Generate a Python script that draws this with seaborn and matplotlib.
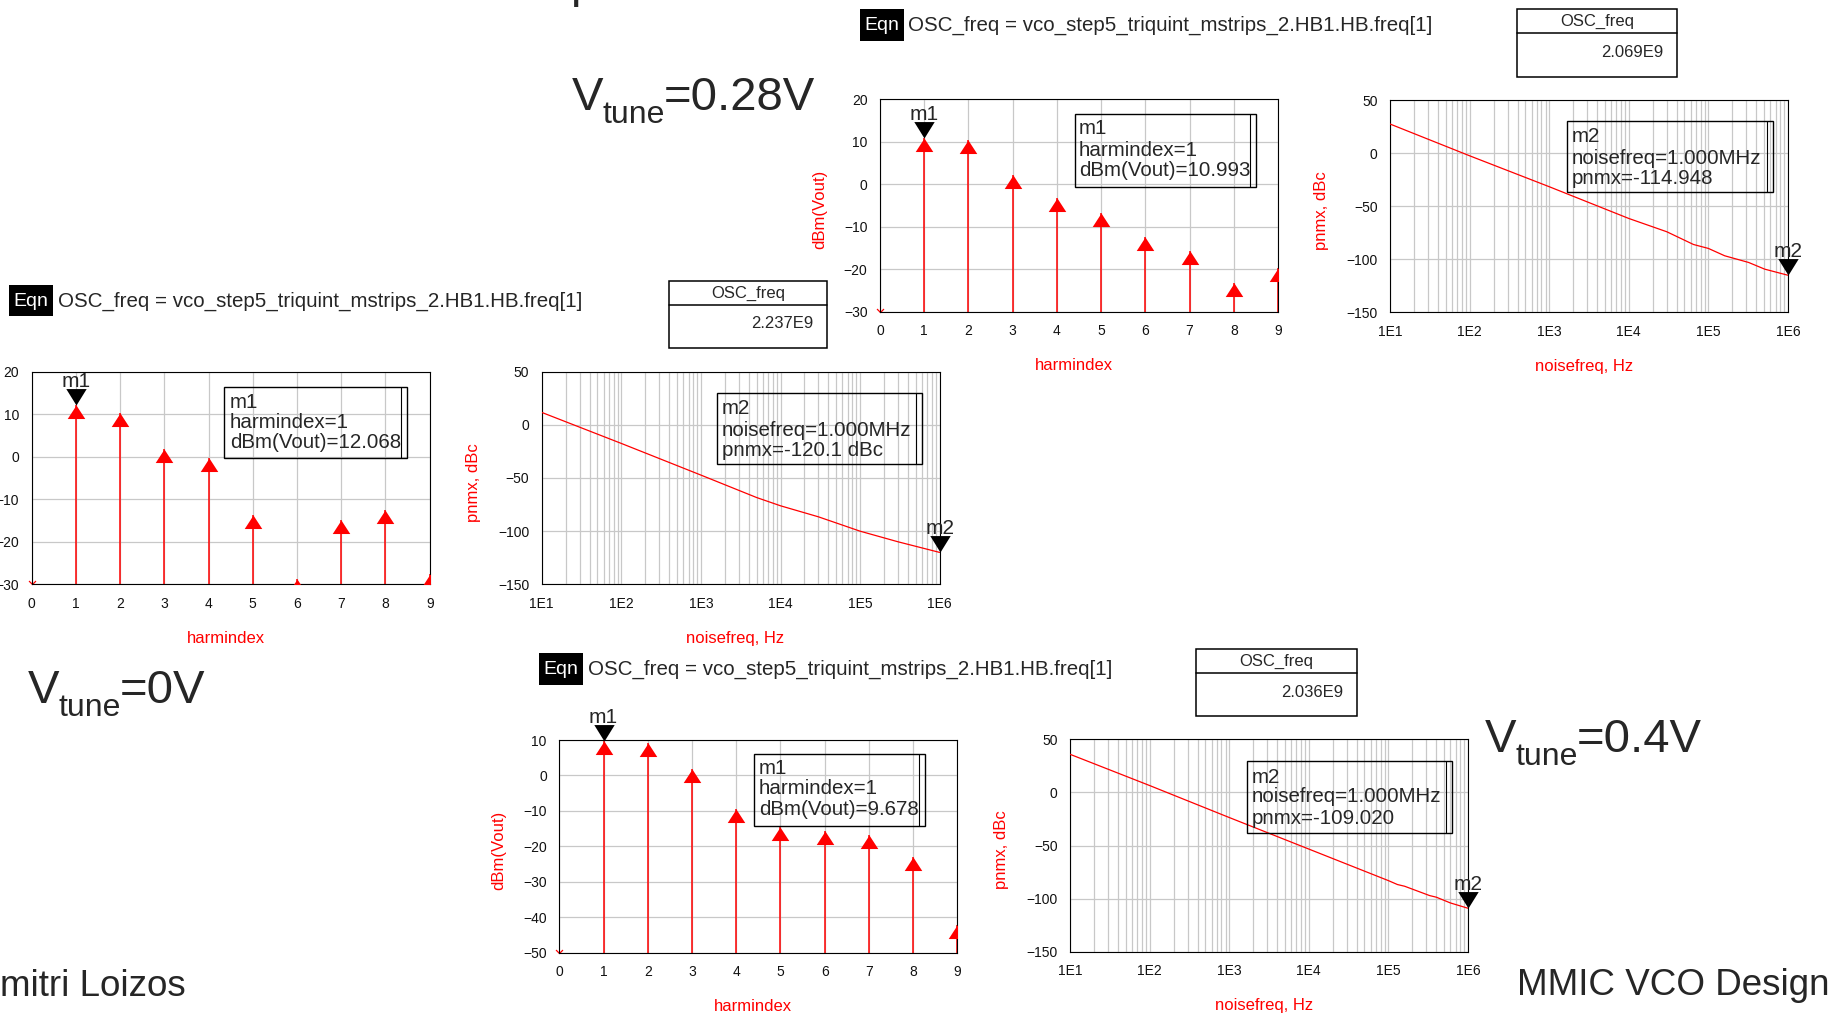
import numpy as np
import pandas as pd
import seaborn as sns
import matplotlib.pyplot as plt
from matplotlib.patches import Rectangle
from matplotlib.lines import Line2D
from matplotlib.path import Path
from matplotlib.markers import MarkerStyle
from matplotlib.ticker import MultipleLocator, LogLocator, NullFormatter, FuncFormatter

# harmonic spectra, dBm(Vout) for harmindex 1..9
harm_index = [1, 2, 3, 4, 5, 6, 7, 8, 9]
dbm_vout_0v = [12.068, 10.2, 1.9, -0.4, -13.7, -28.7, -14.9, -12.6, -27.5]
dbm_vout_028v = [10.993, 10.4, 2.2, -3.3, -6.8, -12.3, -15.6, -23.3, -19.8]
dbm_vout_04v = [9.678, 9.2, 1.9, -9.5, -14.7, -15.6, -16.8, -23.0, -42.3]

# phase noise pnmx (dBc) vs noisefreq (Hz)
noisefreq_0v = [1e1, 1e2, 1e3, 5e3, 1e4, 3e4, 1e5, 3e5, 1e6]
pnmx_0v = [11.7, -17.5, -47.3, -68.4, -76.2, -86.6, -100.1, -110.1, -120.1]
noisefreq_028v = [1e1, 1e2, 1e3, 1e4, 3e4, 6.5e4, 1e5, 1.6e5, 3.2e5, 5.1e5, 1e6]
pnmx_028v = [27.4, -2.5, -31.6, -61.5, -74.0, -86.0, -89.7, -96.6, -102.9, -109.2, -114.948]
noisefreq_04v = [1e1, 1e2, 1e3, 1e4, 1e5, 1.3e5, 1.6e5, 3.3e5, 4e5, 6e5, 1e6]
pnmx_04v = [35.9, 6.5, -23.6, -53.3, -83.0, -86.7, -88.3, -97.1, -98.6, -104.0, -109.02]

osc_freq = [2.237e9, 2.069e9, 2.036e9]
vtune = ["0V", "0.28V", "0.4V"]
eqn_text = "OSC_freq = vco_step5_triquint_mstrips_2.HB1.HB.freq[1]"

RED = "#ff0000"
GRID = "#c8c8c8"
FONT = "Liberation Sans"
W, H = 1837, 1013

sns.set_theme(style="white")
plt.rcParams["font.family"] = [FONT, "DejaVu Sans"]

# markers: apex of the triangle sits on the value, like ADS
tri_up = MarkerStyle(Path([(0, 0), (-0.65, -1), (0.65, -1), (0, 0)],
                          [Path.MOVETO, Path.LINETO, Path.LINETO, Path.CLOSEPOLY]))
tri_down = MarkerStyle(Path([(0, 0), (-0.62, 1), (0.62, 1), (0, 0)],
                            [Path.MOVETO, Path.LINETO, Path.LINETO, Path.CLOSEPOLY]))
chevron = MarkerStyle(Path([(-1, 1), (0, 0), (1, 1)]), fillstyle="none")

fig = plt.figure(figsize=(W / 100, H / 100), dpi=100)
fig.patch.set_facecolor("white")
renderer = fig.canvas.get_renderer()


def fx(x):
    return x / W


def fy(y):
    return 1 - y / H


def px_axes(left, top, w=398, h=212.5):
    return fig.add_axes([fx(left), fy(top + h), w / W, h / H])


def style_axes(ax):
    ax.set_facecolor("white")
    for s in ax.spines.values():
        s.set_visible(True)
        s.set_color("black")
        s.set_linewidth(0.8)
    ax.tick_params(which="major", direction="out", length=7, width=0.7,
                   color="black", labelsize=10, pad=2, labelcolor="#111111")
    ax.tick_params(which="minor", direction="out", length=3.5, width=0.7, color="black")
    ax.set_axisbelow(True)


def marker_label(ax, x, y, name):
    sns.scatterplot(x=[x], y=[y], marker=tri_down, s=560, color="black",
                    linewidth=0, ax=ax, zorder=5, clip_on=False, legend=False)
    ax.annotate(name, xy=(x, y), xytext=(0, 13), textcoords="offset points",
                ha="center", va="baseline", fontsize=15, annotation_clip=False, zorder=6)


def draw_harm(ax, vals, ylim):
    style_axes(ax)
    ax.vlines(harm_index, ylim[0], vals, colors=RED, lw=1.1, zorder=2)
    sns.scatterplot(x=harm_index, y=vals, marker=tri_up, s=380, color=RED,
                    linewidth=0, ax=ax, zorder=3, legend=False)
    # DC bin falls below the plotted range
    ax.plot([0], [ylim[0]], marker=chevron, ms=5, mec=RED, mew=0.9, ls="none", clip_on=False)
    ax.set_xlim(0, 9)
    ax.set_ylim(*ylim)
    ax.xaxis.set_major_locator(MultipleLocator(1))
    ax.xaxis.set_minor_locator(MultipleLocator(0.5))
    ax.yaxis.set_major_locator(MultipleLocator(10))
    ax.yaxis.set_minor_locator(MultipleLocator(5))
    ax.grid(True, which="major", color=GRID, lw=0.9)
    ax.set_xlabel("harmindex", color=RED, fontsize=12, va="center")
    ax.set_ylabel("dBm(Vout)", color=RED, fontsize=12, va="center")
    ax.xaxis.set_label_coords(0.487, -0.254)
    ax.yaxis.set_label_coords(-0.151, 0.48)
    marker_label(ax, harm_index[0], vals[0], "m1")


def draw_pn(ax, freq, pn):
    style_axes(ax)
    ax.set_xscale("log")
    sns.lineplot(x=freq, y=pn, color=RED, lw=0.9, ax=ax, zorder=3)
    ax.set_xlim(1e1, 1e6)
    ax.set_ylim(-150, 50)
    ax.xaxis.set_major_locator(LogLocator(10, numticks=10))
    ax.xaxis.set_minor_locator(LogLocator(10, subs=np.arange(2, 10), numticks=100))
    ax.xaxis.set_major_formatter(FuncFormatter(lambda v, _: f"1E{int(round(np.log10(v)))}"))
    ax.xaxis.set_minor_formatter(NullFormatter())
    ax.tick_params(axis="x", which="minor", length=0)
    ax.yaxis.set_major_locator(MultipleLocator(50))
    ax.yaxis.set_minor_locator(MultipleLocator(10))
    ax.grid(True, axis="x", which="both", color=GRID, lw=0.9)
    ax.grid(True, axis="y", which="major", color=GRID, lw=0.9)
    ax.set_xlabel("noisefreq, Hz", color=RED, fontsize=12, va="center")
    ax.set_ylabel("pnmx, dBc", color=RED, fontsize=12, va="center")
    ax.xaxis.set_label_coords(0.487, -0.254)
    ax.yaxis.set_label_coords(-0.172, 0.48)
    marker_label(ax, freq[-1], pn[-1], "m2")


def readout(x0, y0, x1, y1, lines, tx, ty):
    fig.add_artist(Rectangle((fx(x0), fy(y1)), fx(x1 - x0), (y1 - y0) / H,
                             transform=fig.transFigure, fill=False, ec="black", lw=1.0))
    fig.add_artist(Line2D([fx(x1 - 6), fx(x1 - 6)], [fy(y0), fy(y1)],
                          transform=fig.transFigure, color="black", lw=0.8))
    for s, y in zip(lines, ty):
        fig.text(fx(tx), fy(y), s, fontsize=14.8, va="center", ha="left")


def eqn_block(bx, by, ox0, oy0, ox1, oy1, f):
    fig.add_artist(Rectangle((fx(bx), fy(by + 31.5)), 43.5 / W, 31.5 / H,
                             transform=fig.transFigure, fc="black", ec="none"))
    fig.text(fx(bx + 21.7), fy(by + 16.5), "Eqn", color="white", fontsize=14,
             ha="center", va="center")
    fig.text(fx(bx + 48.5), fy(by + 16.5), eqn_text, fontsize=14.8, ha="left", va="center")
    fig.add_artist(Rectangle((fx(ox0), fy(oy1)), fx(ox1 - ox0), (oy1 - oy0) / H,
                             transform=fig.transFigure, fill=False, ec="black", lw=1.1))
    div = oy0 + 24
    fig.add_artist(Line2D([fx(ox0), fx(ox1)], [fy(div), fy(div)],
                          transform=fig.transFigure, color="black", lw=1.1))
    fig.text(fx((ox0 + ox1) / 2), fy((oy0 + div) / 2), "OSC_freq", fontsize=12,
             ha="center", va="center")
    fig.text(fx(ox1 - 14), fy(div + 19), f"{f / 1e9:.3f}E9", fontsize=12,
             ha="right", va="center")


def vtune_label(x, y, value):
    # V, subscript "tune" dropped ~13 px, then "=value"
    t = fig.text(fx(x), fy(y), "V", fontsize=34, va="baseline", ha="left")
    x_next = t.get_window_extent(renderer).x1 - 1
    t = fig.text(x_next / W, fy(y + 13), "tune", fontsize=23, va="baseline", ha="left")
    x_next = t.get_window_extent(renderer).x1 - 1
    fig.text(x_next / W, fy(y), "=" + value, fontsize=34, va="baseline", ha="left")


# Vtune = 0 V (left / middle)
ax_h0 = px_axes(31.7, 371.7)
draw_harm(ax_h0, dbm_vout_0v, (-30, 20))
ax_p0 = px_axes(541.7, 371.7)
draw_pn(ax_p0, noisefreq_0v, pnmx_0v)

# Vtune = 0.28 V (top)
ax_h1 = px_axes(880, 99.3)
draw_harm(ax_h1, dbm_vout_028v, (-30, 20))
ax_p1 = px_axes(1390, 100)
draw_pn(ax_p1, noisefreq_028v, pnmx_028v)

# Vtune = 0.4 V (bottom)
ax_h2 = px_axes(559.3, 740)
draw_harm(ax_h2, dbm_vout_04v, (-50, 10))
ax_p2 = px_axes(1070, 739.3)
draw_pn(ax_p2, noisefreq_04v, pnmx_04v)

# marker readouts
readout(224, 387, 407, 458, ["m1", "harmindex=1", f"dBm(Vout)={dbm_vout_0v[0]:.3f}"],
        230, [402, 422, 442])
readout(717, 393, 922, 464, ["m2", "noisefreq=1.000MHz", f"pnmx={pnmx_0v[-1]:.1f} dBc"],
        722, [409, 430, 450])
readout(1075, 114, 1256, 187, ["m1", "harmindex=1", f"dBm(Vout)={dbm_vout_028v[0]:.3f}"],
        1079, [129, 150, 170])
readout(1567, 121, 1773, 192, ["m2", "noisefreq=1.000MHz", f"pnmx={pnmx_028v[-1]:.3f}"],
        1572, [137, 158, 178])
readout(754, 754, 925, 826, ["m1", "harmindex=1", f"dBm(Vout)={dbm_vout_04v[0]:.3f}"],
        759, [768, 789, 809])
readout(1247, 761, 1452, 833, ["m2", "noisefreq=1.000MHz", f"pnmx={pnmx_04v[-1]:.3f}"],
        1252, [777, 797, 818])

# equation / OSC_freq tables
eqn_block(9.4, 285, 669, 281, 827, 348, osc_freq[0])
eqn_block(860, 9.3, 1517, 9.3, 1677, 76.7, osc_freq[1])
eqn_block(539, 653, 1196, 649, 1357, 716, osc_freq[2])

# slide text
for v, (x, y) in zip(vtune, [(28, 703), (572, 110), (1485, 752)]):
    vtune_label(x, y, v)
fig.text(fx(570), fy(-3), "p", fontsize=34, va="baseline", ha="left")
fig.text(fx(0), fy(996), "mitri Loizos", fontsize=26.5, va="baseline", ha="left")
fig.text(fx(1517), fy(995), "MMIC VCO Design", fontsize=26.5, va="baseline", ha="left")

fig.savefig("out.png", dpi=100)
